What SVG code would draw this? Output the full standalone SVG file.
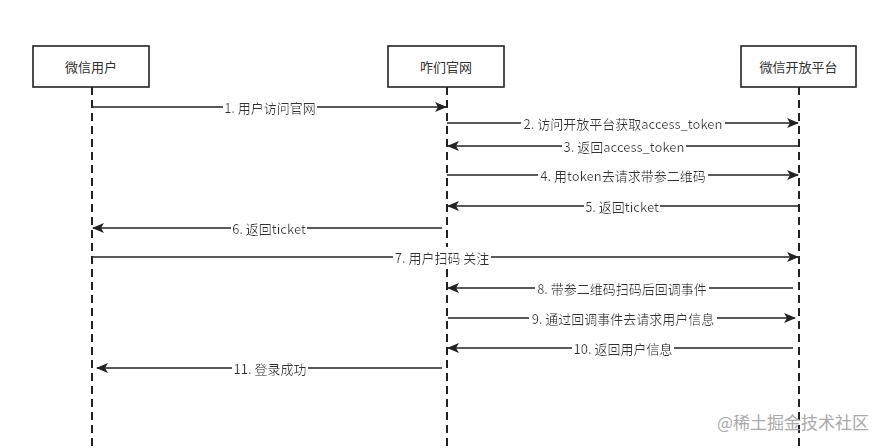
<svg xmlns="http://www.w3.org/2000/svg" width="892" height="448" viewBox="0 0 892 448">
<defs>
<marker id="ah" markerWidth="12" markerHeight="10" refX="11" refY="5" orient="auto" markerUnits="userSpaceOnUse">
<path d="M0,0 L12,5 L0,10 L3,5 Z" fill="#222"/>
</marker>
<filter id="bg" x="-0.01" y="0" width="1.02" height="1">
<feFlood flood-color="#fff"/>
<feComposite in="SourceGraphic" operator="over"/>
</filter>
<style>
.box{fill:#fff;stroke:#222;stroke-width:1.6}
.life{stroke:#222;stroke-width:2;stroke-dasharray:8 5;fill:none}
.msg{stroke:#222;stroke-width:1.6;fill:none;marker-end:url(#ah)}
.t{font-family:"Noto Sans CJK SC","Microsoft YaHei",sans-serif;font-size:13px;fill:#333;text-anchor:middle;dominant-baseline:central}
.m{filter:url(#bg)}
.wm{font-family:"Noto Sans CJK SC",sans-serif;font-size:17px;fill:#aaa;text-anchor:start;dominant-baseline:central}
</style>
</defs>
<rect width="892" height="448" fill="#fff"/>
<g id="lifelines">
<line class="life" x1="92" y1="87" x2="92" y2="448"/>
<line class="life" x1="447" y1="87" x2="447" y2="448"/>
<line class="life" x1="799" y1="87" x2="799" y2="448"/>
</g>
<g id="node-user"><rect class="box" x="33" y="46" width="116" height="41"/><text class="t" x="91" y="66.5">微信用户</text></g>
<g id="node-site"><rect class="box" x="388" y="46" width="116" height="41"/><text class="t" x="446" y="66.5">咋们官网</text></g>
<g id="node-platform"><rect class="box" x="741" y="46" width="115" height="41"/><text class="t" x="798.5" y="66.5">微信开放平台</text></g>
<g id="connectors">
<line class="msg" x1="92" y1="107" x2="446" y2="107"/>
<line class="msg" x1="447" y1="123" x2="798" y2="123"/>
<line class="msg" x1="799" y1="146" x2="448" y2="146"/>
<line class="msg" x1="447" y1="175" x2="798" y2="175"/>
<line class="msg" x1="799" y1="206" x2="448" y2="206"/>
<line class="msg" x1="442" y1="228" x2="93" y2="228"/>
<line class="msg" x1="92" y1="257" x2="798" y2="257"/>
<line class="msg" x1="793" y1="288" x2="448" y2="288"/>
<line class="msg" x1="448" y1="318" x2="795" y2="318"/>
<line class="msg" x1="793" y1="348" x2="448" y2="348"/>
<line class="msg" x1="442" y1="368" x2="97" y2="368"/>
</g>
<g id="labels">
<text class="t m" x="270" y="107">1. 用户访问官网</text>
<text class="t m" x="623" y="123">2. 访问开放平台获取access_token</text>
<text class="t m" x="624" y="146">3. 返回access_token</text>
<text class="t m" x="623" y="175">4. 用token去请求带参二维码</text>
<text class="t m" x="622" y="206">5. 返回ticket</text>
<text class="t m" x="269" y="228">6. 返回ticket</text>
<text class="t m" x="442" y="257">7. 用户扫码 关注</text>
<text class="t m" x="622" y="288">8. 带参二维码扫码后回调事件</text>
<text class="t m" x="623" y="318">9. 通过回调事件去请求用户信息</text>
<text class="t m" x="623" y="348">10. 返回用户信息</text>
<text class="t m" x="270" y="368">11. 登录成功</text>
</g>
<text class="wm" x="717" y="421">@稀土掘金技术社区</text>
</svg>
